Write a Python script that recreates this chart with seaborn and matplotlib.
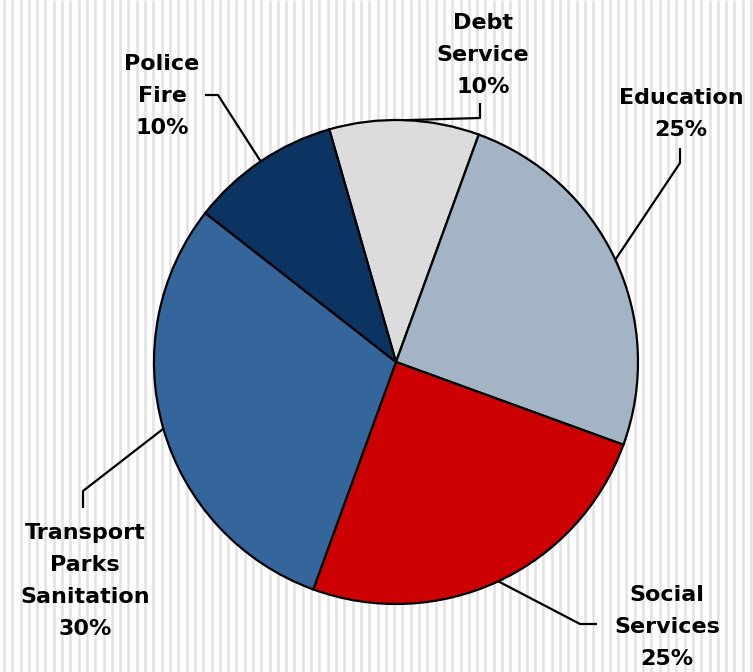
import numpy as np
import matplotlib
matplotlib.use("Agg")
import matplotlib.pyplot as plt
import seaborn as sns

# ---- data ----
categories = ["Debt\nService", "Education", "Social\nServices",
              "Transport\nParks\nSanitation", "Police\nFire"]
shares = [10, 25, 25, 30, 10]
colors = ["#DCDCDC", "#A3B4C5", "#CC0000", "#34659B", "#0B3462"]

sns.set_theme(style="white")
plt.rcParams['font.family'] = ['DejaVu Sans']

W, H = 753, 672
fig = plt.figure(figsize=(W / 100, H / 100), dpi=100)
ax = fig.add_axes([0, 0, 1, 1])

# striped background
ax.vlines(np.arange(4, W, 8.3), 0, H, colors="#E2E2E2", lw=1.8, zorder=0)

cx, cy, R = 396, H - 362, 242
wedges, _ = ax.pie(shares, colors=colors, startangle=106, counterclock=False,
                   center=(cx, cy), radius=R, frame=True,
                   wedgeprops=dict(edgecolor="black", linewidth=1.6))
for w in wedges:
    w.set_zorder(2)
ax.set_xlim(0, W)
ax.set_ylim(0, H)
ax.axis("off")

# label layout (pixel coords, top-down): text centre, leader end, elbow
layout = [
    ((483, 55), (480, 103), (480, 118)),
    ((681, 114), (680, 148), (680, 163)),
    ((667, 627), (597, 624), (580, 624)),
    ((85, 581), (83, 508), (83, 491)),
    ((162, 96), (205, 95), (218, 95)),
]

for w, cat, val, (tc, p_end, p_elb) in zip(wedges, categories, shares, layout):
    mid = np.deg2rad((w.theta1 + w.theta2) / 2)
    px, py = cx + R * np.cos(mid), cy + R * np.sin(mid)
    xs = [p_end[0], p_elb[0], px]
    ys = [H - p_end[1], H - p_elb[1], py]
    ax.plot(xs, ys, color="black", lw=1.6, zorder=3, solid_capstyle="butt")
    ax.text(tc[0], H - tc[1], f"{cat}\n{val}%", ha="center", va="center",
            multialignment="center", fontsize=16, fontweight="bold",
            linespacing=1.75, color="black", zorder=4)

fig.savefig("out.png", dpi=100)
